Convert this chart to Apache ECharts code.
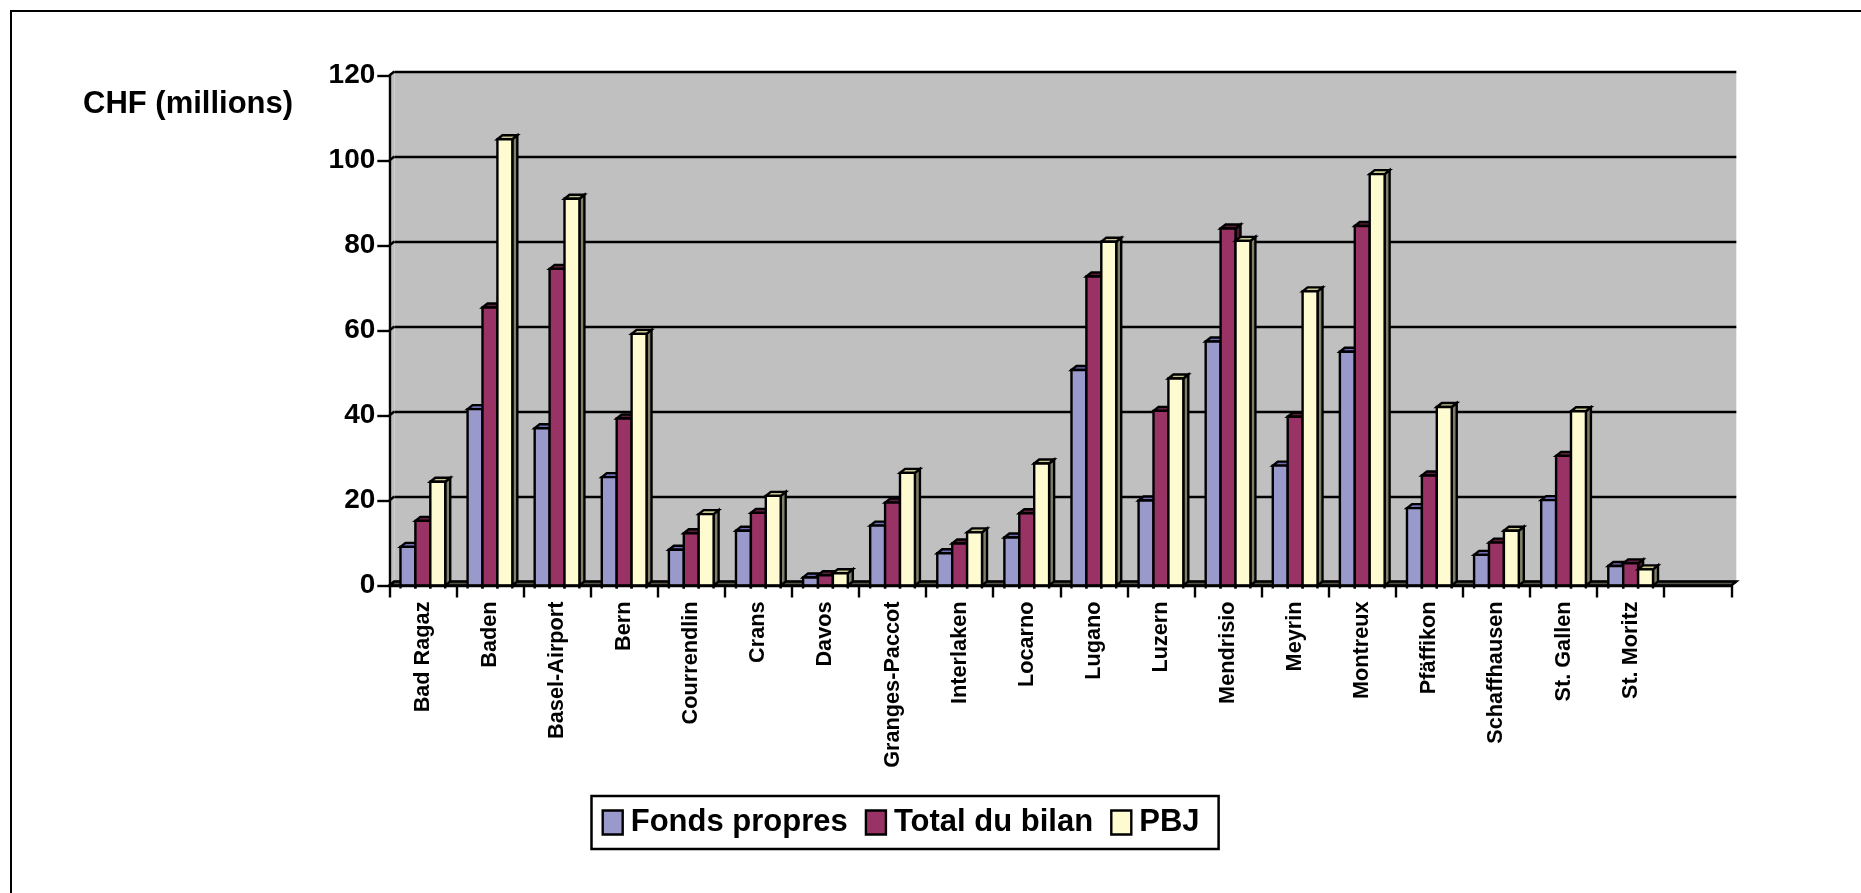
<!DOCTYPE html>
<html><head><meta charset="utf-8">
<style>html,body{margin:0;padding:0;background:#fff}#c{width:1861px;height:893px}</style>
<script src="https://cdn.jsdelivr.net/npm/echarts@6/dist/echarts.min.js"></script>
</head><body><div id="c"></div>
<script>
const categories = ['Bad Ragaz','Baden','Basel-Airport','Bern','Courrendlin','Crans','Davos','Granges-Paccot','Interlaken','Locarno','Lugano','Luzern','Mendrisio','Meyrin','Montreux','Pf\u00e4ffikon','Schaffhausen','St. Gallen','St. Moritz',''];
const yTicks = [0,20,40,60,80,100,120];
const fondsPropres = [9.1,41.5,37,25.5,8.4,12.9,1.9,14.1,7.6,11.3,50.7,20,57.4,28.2,55,18.2,7.2,20.1,4.6];
const totalBilan = [15.2,65.4,74.5,39.3,12.3,17.1,2.4,19.5,9.9,17,72.7,41.1,84,39.7,84.6,25.9,10.1,30.5,5.2];
const pbj = [24.4,105,91,59.2,16.8,21.1,2.9,26.5,12.5,28.7,80.9,48.7,81.1,69.2,96.8,42,12.9,41,3.8];
const seriesNames = ['Fonds propres','Total du bilan','PBJ'];
const seriesValues = [fondsPropres,totalBilan,pbj];
const faceColors = ['#9999cc','#993366','#fffbd0'];
const topColors = ['#6f6fb5','#5c1f3d','#c9c691'];
const sideColors = ['#4d4d66','#4d1a33','#80806a'];
const FONT = '"Liberation Sans", Arial, sans-serif';
const DX = 5, DY = -4, LW = 2.4;

const chart = echarts.init(document.getElementById('c'));

function frameItem(params, api){
  const cs = params.coordSys, kids = [];
  const x0 = cs.x, y0 = cs.y + cs.height, x1 = cs.x + cs.width, yTop = cs.y;
  kids.push({type:'polygon',shape:{points:[[x0,yTop],[x0+DX,yTop+DY],[x0+DX,y0+DY],[x0,y0]]},style:{fill:'#c0c0c0',stroke:null}});
  kids.push({type:'polygon',shape:{points:[[x0,y0],[x0+DX,y0+DY],[x1+DX,y0+DY],[x1,y0]]},style:{fill:'#55554a',stroke:'#000',lineWidth:LW}});
  yTicks.forEach(v=>{
    const y = api.coord([0,v])[1];
    kids.push({type:'line',shape:{x1:x0,y1:y,x2:x0+DX,y2:y+DY},style:{stroke:'#000',lineWidth:LW}});
  });
  return {type:'group',children:kids};
}

function barItem(k){
  return function(params, api){
    const i = api.value(0), v = api.value(1);
    const c = api.coord([i,v]), base = api.coord([i,0])[1];
    const w = api.size([1,0])[0]/4.5;
    const x = c[0] + (k-1.5)*w, y = c[1];
    const sty = {stroke:'#000',lineWidth:LW,lineJoin:'miter',miterLimit:4};
    return {type:'group',children:[
      {type:'polygon',shape:{points:[[x+w,y],[x+w+DX,y+DY],[x+w+DX,base+DY],[x+w,base]]},style:Object.assign({fill:sideColors[k]},sty)},
      {type:'polygon',shape:{points:[[x,y],[x+DX,y+DY],[x+w+DX,y+DY],[x+w,y]]},style:Object.assign({fill:topColors[k]},sty)},
      {type:'rect',shape:{x:x,y:y,width:w,height:base-y},style:Object.assign({fill:faceColors[k]},sty)},
      {type:'line',shape:{x1:x,y1:base,x2:x,y2:base+3},style:{stroke:'#000',lineWidth:LW}},
      {type:'line',shape:{x1:x+w,y1:base,x2:x+w,y2:base+3},style:{stroke:'#000',lineWidth:LW}}
    ]};
  };
}

const series = [{
  type:'custom',name:'__frame',xAxisIndex:0,yAxisIndex:0,z:1,silent:true,clip:false,
  data:[[0,0]],renderItem:frameItem
}];
seriesNames.forEach((n,k)=>series.push({
  type:'custom',name:n,xAxisIndex:0,yAxisIndex:0,z:3+k,clip:false,
  itemStyle:{color:faceColors[k],borderColor:'#000',borderWidth:LW},
  encode:{x:0,y:1},
  data:seriesValues[k].map((v,i)=>[i,v]),
  renderItem:barItem(k)
}));

chart.setOption({
  animation:false,
  backgroundColor:'#fff',
  title:{text:'CHF (millions)',left:83,top:89,padding:0,textStyle:{fontFamily:FONT,fontWeight:'bold',fontSize:31,color:'#000'}},
  legend:{
    show:true,left:591.5,top:796,orient:'horizontal',
    data:seriesNames.map((n,k)=>({name:n,icon:'rect',itemStyle:{color:faceColors[k],borderColor:'#000',borderWidth:LW}})),
    itemWidth:20,itemHeight:24,itemGap:17,
    backgroundColor:'#fff',borderColor:'#000',borderWidth:2.5,padding:[11,19,11,10],
    textStyle:{fontFamily:FONT,fontWeight:'bold',fontSize:31,color:'#000',padding:[0,0,0,3]},
    selectedMode:false
  },
  grid:[
    {left:389.3,top:75.5,width:1342,height:510,containLabel:false},
    {left:394.3,top:71.5,width:1342,height:510,show:true,backgroundColor:'#c0c0c0',borderWidth:0,z:0}
  ],
  xAxis:[
    {type:'category',gridIndex:0,data:categories,boundaryGap:true,
      axisLine:{show:true,onZero:false,lineStyle:{color:'#000',width:LW}},
      axisTick:{show:true,length:12,alignWithLabel:false,interval:0,lineStyle:{color:'#000',width:LW}},
      axisLabel:{interval:0,rotate:90,margin:16,padding:[0,0,4,0],fontFamily:FONT,fontWeight:'bold',fontSize:21.7,color:'#000'},
      splitLine:{show:false},z:6},
    {type:'category',gridIndex:1,data:categories,show:false}
  ],
  yAxis:[
    {type:'value',gridIndex:0,min:0,max:120,interval:20,
      axisLine:{show:true,onZero:false,lineStyle:{color:'#000',width:LW}},
      axisTick:{show:true,length:12,lineStyle:{color:'#000',width:LW}},
      axisLabel:{margin:14,fontFamily:FONT,fontWeight:'bold',fontSize:28,color:'#000'},
      splitLine:{show:false},z:6},
    {type:'value',gridIndex:1,min:0,max:120,interval:20,
      axisLine:{show:false},axisTick:{show:false},axisLabel:{show:false},
      splitLine:{show:true,lineStyle:{color:'#000',width:LW}},z:0}
  ],
  graphic:[
    {type:'line',silent:true,shape:{x1:11,y1:11,x2:1861,y2:11},style:{stroke:'#000',lineWidth:2}},
    {type:'line',silent:true,shape:{x1:11,y1:10,x2:11,y2:893},style:{stroke:'#000',lineWidth:2}}
  ],
  series:series
});
</script></body></html>
